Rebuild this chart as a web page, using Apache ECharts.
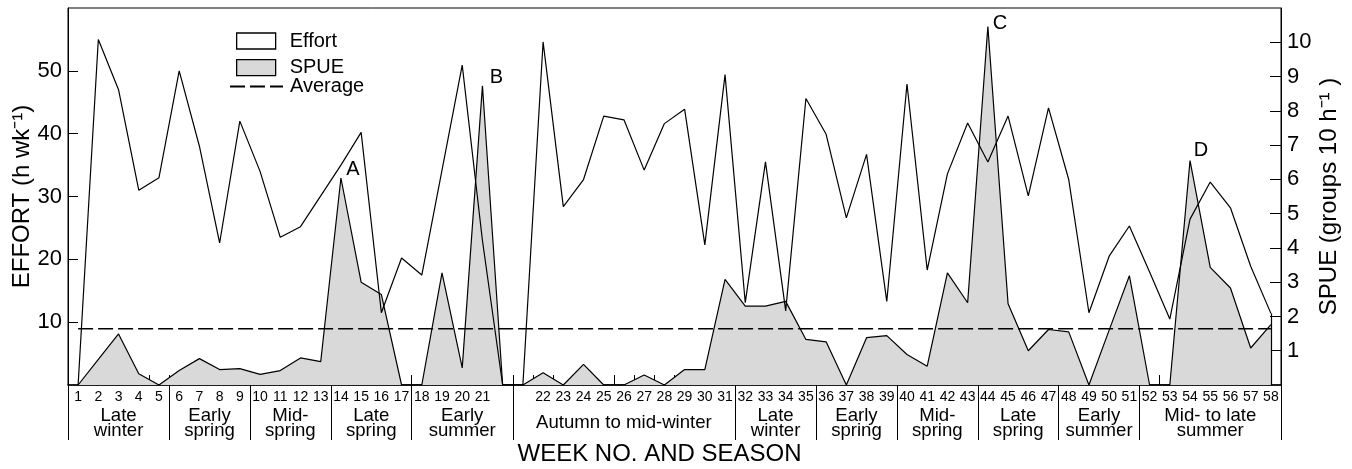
<!DOCTYPE html>
<html>
<head>
<meta charset="utf-8">
<script src="https://cdn.jsdelivr.net/npm/echarts@6/dist/echarts.min.js"></script>
<style>
html,body{margin:0;padding:0;background:#fff}
#c{width:1352px;height:469px}
</style>
</head>
<body>
<div id="c"></div>
<script>
// ---- data ----
// 58 weeks plus two empty slots between week 21 and week 22
const weekLabels = ['1','2','3','4','5','6','7','8','9','10','11','12','13','14','15','16','17','18','19','20','21',' ','  ',
  '22','23','24','25','26','27','28','29','30','31','32','33','34','35','36','37','38','39','40',
  '41','42','43','44','45','46','47','48','49','50','51','52','53','54','55','56','57','58'];

// Effort (h wk-1), left axis
const effort = [0,55,47,31,33,50,38,22.6,42,34,23.5,25.2,30.1,35,40.2,11.5,20.2,17.5,34.2,50.9,23,0,0,
  54.6,28.4,32.7,42.8,42.2,34.2,41.6,43.9,22.3,49.4,13.1,35.5,11.8,45.6,39.9,26.6,36.7,13.3,47.9,
  18.3,33.6,41.7,35.5,42.8,30.1,44.1,32.7,11.5,20.5,25.3,18,10.5,26.4,32.3,28.2,18.9,11.4];

// SPUE (groups 10 h-1), right axis
const spue = [0,0.75,1.49,0.33,0,0.42,0.77,0.45,0.48,0.31,0.42,0.79,0.68,6.04,3.0,2.64,0,0,3.27,0.5,8.73,0,0,
  0.36,0,0.6,0,0,0.29,0,0.45,0.45,3.08,2.30,2.30,2.44,1.33,1.26,0,1.38,1.44,0.89,
  0.55,3.27,2.40,10.46,2.37,1.0,1.62,1.55,0,1.6,3.19,0,0,6.55,3.43,2.83,1.08,1.76];

// Average SPUE (dashed line)
const averageSPUE = 1.64;

// Seasons: name, first and last week-slot label
const seasonNames = ['Late\nwinter','Early\nspring','Mid-\nspring','Late\nspring','Early\nsummer','Autumn to mid-winter',
  'Late\nwinter','Early\nspring','Mid-\nspring','Late\nspring','Early\nsummer','Mid- to late\nsummer'];
const seasonFirst = ['1','6','10','14','18','  ','32','36','40','44','48','52'];
const seasonLast  = ['5','9','13','17',' ','31','35','39','43','47','51','58'];

// Peak labels
const peakLetters = ['A','B','C','D'];
const peakWeeks = ['14','21','44','54'];

// ---- chart ----
const FONT = '"Liberation Sans", Arial, Helvetica, sans-serif';
const idx = w => weekLabels.indexOf(w);
const seasonCenters = seasonFirst.map((f,i) => (idx(f) + idx(seasonLast[i])) / 2);
const seasonBounds = seasonFirst.map(f => idx(f) - 0.5).concat([idx(seasonLast[seasonLast.length-1]) + 0.5]);
const centerName = {};
seasonCenters.forEach((c,i) => { centerName[String(c)] = seasonNames[i]; });
const peakOffsets = {A:[12,-9], B:[14,-8], C:[12,-3], D:[11,-10]};
const lastIdx = weekLabels.length - 1;

const chart = echarts.init(document.getElementById('c'), null, {renderer:'canvas', width:1352, height:469});

const option = {
  animation: false,
  backgroundColor: '#ffffff',
  textStyle: {fontFamily: FONT, color: '#000'},
  grid: {left: 68, right: 71, top: 8, bottom: 84, show: true, borderColor: '#000', borderWidth: 1,
         backgroundColor: 'transparent', containLabel: false, outerBoundsMode: 'none'},
  legend: [
    {orient: 'vertical', left: 236, top: 31, padding: 0, itemWidth: 39, itemHeight: 16, itemGap: 6.6,
     selectedMode: false,
     textStyle: {fontSize: 20, color: '#000', fontFamily: FONT, lineHeight: 16, padding: [0,0,0,9]},
     data: [
       {name: 'Effort', icon: 'rect', itemStyle: {color: '#ffffff', borderColor: '#000', borderWidth: 1.3}},
       {name: 'SPUE', icon: 'rect', itemStyle: {color: '#d9d9d9', borderColor: '#000', borderWidth: 1.3}}
     ]},
    {orient: 'vertical', left: 229, top: 76.5, padding: 0, itemWidth: 53, itemHeight: 16,
     selectedMode: false,
     textStyle: {fontSize: 20, color: '#000', fontFamily: FONT, lineHeight: 16, padding: [0,0,0,2]},
     data: [{name: 'Average', itemStyle: {opacity: 0, color: 'rgba(0,0,0,0)', borderWidth: 0}}]}
  ],
  xAxis: [
    {type: 'category', data: weekLabels, gridIndex: 0, position: 'bottom', boundaryGap: true,
     axisLine: {show: true, onZero: false, lineStyle: {color: '#000', width: 1.6}},
     axisTick: {show: true, inside: true, length: 10, interval: 0, lineStyle: {color: '#000', width: 1}},
     axisLabel: {interval: 0, margin: 5, fontSize: 14, color: '#000', fontFamily: FONT, hideOverlap: false},
     splitLine: {show: false}},
    {type: 'value', min: -0.5, max: lastIdx + 0.5, gridIndex: 0, position: 'bottom',
     axisLine: {show: false, onZero: false},
     axisTick: {show: true, customValues: seasonBounds, length: 55, inside: false, lineStyle: {color: '#000', width: 1}},
     axisLabel: {show: true, customValues: seasonCenters, formatter: v => centerName[String(v)] || '',
                 margin: 38, verticalAlign: 'middle', fontSize: 18.6, lineHeight: 15, color: '#000', fontFamily: FONT,
                 hideOverlap: false},
     splitLine: {show: false},
     name: 'WEEK NO. AND SEASON', nameLocation: 'middle', nameGap: 57, nameMoveOverlap: false,
     nameTextStyle: {fontSize: 24, color: '#000', fontFamily: FONT, padding: [0,30,0,0]}}
  ],
  yAxis: [
    {type: 'value', position: 'left', min: 0, max: 60, interval: 10,
     axisLine: {show: true, onZero: false, lineStyle: {color: '#000', width: 1}},
     axisTick: {show: true, inside: true, length: 10, lineStyle: {color: '#000', width: 1}},
     axisLabel: {fontSize: 22, margin: 6, color: '#000', fontFamily: FONT, showMinLabel: false, showMaxLabel: false},
     splitLine: {show: false},
     name: 'EFFORT (h wk⁻¹)', nameLocation: 'middle', nameRotate: 90, nameGap: 34, nameMoveOverlap: false,
     nameTextStyle: {fontSize: 24, color: '#000', fontFamily: FONT}},
    {type: 'value', position: 'right', min: 0, max: 11, interval: 1,
     axisLine: {show: true, onZero: false, lineStyle: {color: '#000', width: 1}},
     axisTick: {show: true, inside: true, length: 11, lineStyle: {color: '#000', width: 1}},
     axisLabel: {fontSize: 22, margin: 6, color: '#000', fontFamily: FONT, showMinLabel: false, showMaxLabel: false},
     splitLine: {show: false},
     name: 'SPUE (groups 10 h⁻¹ )', nameLocation: 'middle', nameRotate: 90, nameGap: 36, nameMoveOverlap: false,
     nameTextStyle: {fontSize: 24, color: '#000', fontFamily: FONT}}
  ],
  series: [
    {name: 'SPUE', type: 'line', xAxisIndex: 0, yAxisIndex: 1, data: spue, symbol: 'none',
     lineStyle: {color: '#000', width: 1.2}, itemStyle: {color: '#000'},
     areaStyle: {color: '#d9d9d9', opacity: 1},
     markPoint: {symbol: 'circle', symbolSize: 1, silent: true,
       itemStyle: {color: 'rgba(0,0,0,0)'},
       label: {show: true, position: 'inside', fontSize: 20, color: '#000', fontFamily: FONT},
       data: peakLetters.map((p,i) => ({coord: [idx(peakWeeks[i]), spue[idx(peakWeeks[i])]], value: p,
         label: {formatter: p, offset: peakOffsets[p]}}))}},
    {name: 'Effort', type: 'line', xAxisIndex: 0, yAxisIndex: 0, data: effort, symbol: 'none',
     lineStyle: {color: '#000', width: 1.2}, itemStyle: {color: '#000'},
     markLine: {symbol: ['none','none'], silent: true, label: {show: false},
       lineStyle: {color: '#000', width: 1.2, type: 'solid'},
       data: [[{coord: [lastIdx, 0]}, {coord: [lastIdx, effort[lastIdx]]}]]}},
    {name: 'Average', type: 'line', xAxisIndex: 0, yAxisIndex: 1,
     data: [[weekLabels[0], averageSPUE], [weekLabels[lastIdx], averageSPUE]], symbol: 'none',
     lineStyle: {color: '#000', width: 1.5, type: [15,5]}, itemStyle: {color: '#000'}}
  ]
};
chart.setOption(option);
</script>
</body>
</html>
